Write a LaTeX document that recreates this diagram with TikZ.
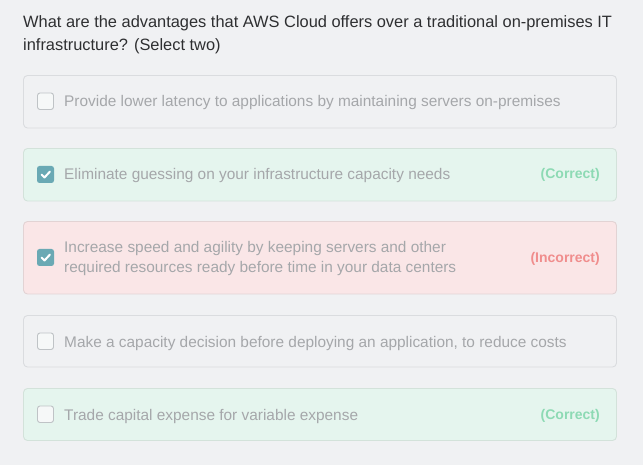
\documentclass[tikz,border=0pt]{standalone}
\usepackage{fontspec}
\setmainfont{Liberation Sans}
\definecolor{pagebg}{HTML}{F0F1F3}
\definecolor{plainfill}{HTML}{F0F1F3}
\definecolor{plainline}{HTML}{DADCDF}
\definecolor{okfill}{HTML}{E5F5EE}
\definecolor{okline}{HTML}{D3E2DA}
\definecolor{badfill}{HTML}{FAE6E7}
\definecolor{badline}{HTML}{E2D3D4}
\definecolor{optext}{HTML}{A5A7AA}
\definecolor{asktext}{HTML}{2E2F31}
\definecolor{tickfill}{HTML}{6AA9B4}
\definecolor{emptyfill}{HTML}{F6F8F8}
\definecolor{emptyline}{HTML}{BFC3C6}
\definecolor{oktext}{HTML}{8DDAB4}
\definecolor{badtext}{HTML}{F08D8D}
\begin{document}
\begin{tikzpicture}[x=1pt,y=-1pt,
    answer/.style={draw=plainline,fill=plainfill,rounded corners=4pt,line width=0.9pt},
    tickbox/.style={draw=emptyline,fill=emptyfill,rounded corners=2.5pt,line width=0.9pt},
    ticked/.style={fill=tickfill,rounded corners=2.5pt},
    optlabel/.style={anchor=base west,inner sep=0pt,text=optext,font=\fontsize{15.4}{20}\selectfont},
    verdict/.style={anchor=base east,inner sep=0pt,font=\fontsize{14}{16}\selectfont\bfseries}]
    \fill [pagebg] (0,0) rectangle (643,465);
    \useasboundingbox (0,0) rectangle (643,465);
    % question
    \node [anchor=base west,inner sep=0pt,text=asktext,font=\fontsize{16.4}{23}\selectfont] (ask1) at (23,28) {What are the advantages that AWS Cloud offers over a traditional on-premises IT};
    \node [anchor=base west,inner sep=0pt,text=asktext,font=\fontsize{16.4}{23}\selectfont] (ask2) at (23,51) {infrastructure? (Select two)};
    % answer boxes
    \draw [answer] (23.5,75.5) rectangle (616.5,128);
    \draw [answer,fill=okfill,draw=okline] (23.5,148.5) rectangle (616.5,201);
    \draw [answer,fill=badfill,draw=badline] (23.5,221.5) rectangle (616.5,294);
    \draw [answer] (23.5,315.5) rectangle (616.5,367);
    \draw [answer,fill=okfill,draw=okline] (23.5,388.5) rectangle (616.5,440.5);
    % check boxes
    \draw [tickbox] (37.5,93) rectangle (53.5,109.5);
    \fill [ticked] (37,166) rectangle (54,183);
    \draw [white,line width=2pt,line cap=round,line join=round] (41.5,174.5) -- (44.5,177.5) -- (50,171.5);
    \fill [ticked] (37,249) rectangle (54,266);
    \draw [white,line width=2pt,line cap=round,line join=round] (41.5,257.5) -- (44.5,260.5) -- (50,254.5);
    \draw [tickbox] (37.5,333) rectangle (53.5,349.5);
    \draw [tickbox] (37.5,406) rectangle (53.5,422.5);
    % answer texts
    \node [optlabel] (opt1) at (64,107) {Provide lower latency to applications by maintaining servers on-premises};
    \node [optlabel] (opt2) at (64,180) {Eliminate guessing on your infrastructure capacity needs};
    \node [optlabel] (opt3a) at (64,253) {Increase speed and agility by keeping servers and other};
    \node [optlabel] (opt3b) at (64,273) {required resources ready before time in your data centers};
    \node [optlabel] (opt4) at (64,347) {Make a capacity decision before deploying an application, to reduce costs};
    \node [optlabel] (opt5) at (64,420) {Trade capital expense for variable expense};
    \node [verdict,text=oktext] (ok2) at (600,179) {(Correct)};
    \node [verdict,text=badtext] (bad3) at (600,263) {(Incorrect)};
    \node [verdict,text=oktext] (ok5) at (600,419) {(Correct)};
\end{tikzpicture}
\end{document}
